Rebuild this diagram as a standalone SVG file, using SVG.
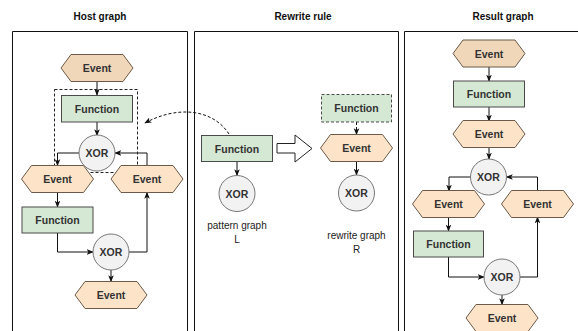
<svg xmlns="http://www.w3.org/2000/svg" width="578" height="331" viewBox="0 0 578 331">
  <style>
    .frame { fill: none; stroke: #111; stroke-width: 1; }
    .title { font-family: "Liberation Sans", Arial, sans-serif; font-size: 10px; font-weight: bold; fill: #111; text-anchor: middle; }
    .lbl { font-family: "Liberation Sans", Arial, sans-serif; font-size: 10.5px; font-weight: bold; fill: #333; text-anchor: middle; dominant-baseline: central; }
    .cap { font-family: "Liberation Sans", Arial, sans-serif; font-size: 10px; fill: #222; text-anchor: middle; }
    .ev { fill: #fde3c8; stroke: #6b5a48; stroke-width: 1; }
    .ev0 { fill: #f1d7ba; stroke: #6b5a48; stroke-width: 1; }
    .fn { fill: #d5e8d4; stroke: #4a4a4a; stroke-width: 1; }
    .fnd { fill: #d5e8d4; stroke: #4a4a4a; stroke-width: 1; stroke-dasharray: 3 2; }
    .xor { fill: #f2f2f2; stroke: #777; stroke-width: 1; }
    .edge { fill: none; stroke: #111; stroke-width: 1; marker-end: url(#ah); }
    .dash { fill: none; stroke: #111; stroke-width: 1; stroke-dasharray: 3 2; marker-end: url(#ah); }
  </style>
  <defs>
    <marker id="ah" viewBox="0 0 10 10" refX="9" refY="5" markerWidth="7" markerHeight="7" markerUnits="userSpaceOnUse" orient="auto">
      <path d="M0,1 L10,5 L0,9 L2.5,5 Z" fill="#111"/>
    </marker>
    <!-- event hexagon centred on 0,0 -->
    <polygon id="hex" points="-36,0 -26,-13.5 26,-13.5 36,0 26,13.5 -26,13.5"/>
  </defs>

  <rect width="578" height="331" fill="#fff"/>

  <!-- panels -->
  <g id="panels">
    <text class="title" x="100" y="20">Host graph</text>
    <text class="title" x="303" y="20">Rewrite rule</text>
    <text class="title" x="503" y="20">Result graph</text>
    <path class="frame" d="M12.5,340 V31.5 H187.5 V340"/>
    <path class="frame" d="M194.5,340 V31.5 H398.5 V340"/>
    <path class="frame" d="M404.5,340 V31.5 H590"/>
  </g>

  <!-- connectors -->
  <g id="connectors">
    <!-- host graph -->
    <path class="edge" d="M97,81.5 V95"/>
    <path class="edge" d="M97,122 V135.5"/>
    <path class="edge" d="M79.5,153 H57.5 V165.5"/>
    <path class="edge" d="M147,165.5 V153 H115"/>
    <path class="edge" d="M57.5,192.5 V207"/>
    <path class="edge" d="M57.5,233 V252 H93"/>
    <path class="edge" d="M129,252 H147 V192.5"/>
    <path class="edge" d="M111,269.5 V281.5"/>
    <!-- match indicator -->
    <path class="dash" d="M229,134 C212,108 176,106 145,123"/>
    <!-- rewrite rule -->
    <path class="edge" d="M237,162 V175.5"/>
    <path class="dash" d="M356.5,122 V134.5"/>
    <path class="edge" d="M356.5,161.5 V175"/>
    <polygon points="277,143.5 295,143.5 295,135 312,148.5 295,162 295,153 277,153" fill="#fff" stroke="#222" stroke-width="1"/>
    <!-- result graph -->
    <path class="edge" d="M489,67 V81"/>
    <path class="edge" d="M489,107 V121"/>
    <path class="edge" d="M489,147 V159"/>
    <path class="edge" d="M471,177 H449 V191"/>
    <path class="edge" d="M537.5,191 V177 H506.5"/>
    <path class="edge" d="M448.5,217 V231"/>
    <path class="edge" d="M448.5,257 V277 H484"/>
    <path class="edge" d="M520,277 H537.5 V217"/>
    <path class="edge" d="M502,295 V304.5"/>
  </g>

  <!-- host graph nodes -->
  <rect id="host-match" x="54.5" y="89.5" width="83" height="83" fill="none" stroke="#222" stroke-width="1" stroke-dasharray="3 2"/>
  <g id="h-ev1"><use href="#hex" class="ev0" transform="translate(97,68)"/><text class="lbl" x="97" y="68">Event</text></g>
  <g id="h-fn1"><rect class="fn" x="61.5" y="95.5" width="71" height="26.5"/><text class="lbl" x="97" y="108.5">Function</text></g>
  <g id="h-xor1"><circle class="xor" cx="97" cy="153" r="18"/><text class="lbl" x="97" y="153">XOR</text></g>
  <g id="h-ev2"><use href="#hex" class="ev" transform="translate(57.5,179)"/><text class="lbl" x="57.5" y="179">Event</text></g>
  <g id="h-ev3"><use href="#hex" class="ev" transform="translate(147,179)"/><text class="lbl" x="147" y="179">Event</text></g>
  <g id="h-fn2"><rect class="fn" x="22" y="207" width="71" height="26"/><text class="lbl" x="57.5" y="220">Function</text></g>
  <g id="h-xor2"><circle class="xor" cx="111" cy="252" r="18"/><text class="lbl" x="111" y="252">XOR</text></g>
  <g id="h-ev4"><use href="#hex" class="ev" transform="translate(111,295)"/><text class="lbl" x="111" y="295">Event</text></g>

  <!-- rewrite rule nodes -->
  <g id="l-fn"><rect class="fn" x="201.5" y="135.5" width="71" height="26"/><text class="lbl" x="237" y="148.5">Function</text></g>
  <g id="l-xor"><circle class="xor" cx="237" cy="193.5" r="18"/><text class="lbl" x="237" y="193.5">XOR</text></g>
  <g id="l-cap"><text class="cap" x="237" y="229">pattern graph</text><text class="cap" x="237" y="243">L</text></g>
  <g id="r-fn"><rect class="fnd" x="321.5" y="94.5" width="70" height="27.5"/><text class="lbl" x="356.5" y="108">Function</text></g>
  <g id="r-ev"><use href="#hex" class="ev" transform="translate(356.5,148)"/><text class="lbl" x="356.5" y="148">Event</text></g>
  <g id="r-xor"><circle class="xor" cx="356.5" cy="193" r="18"/><text class="lbl" x="356.5" y="193">XOR</text></g>
  <g id="r-cap"><text class="cap" x="356.5" y="239">rewrite graph</text><text class="cap" x="356.5" y="253">R</text></g>

  <!-- result graph nodes -->
  <g id="s-ev1"><use href="#hex" class="ev0" transform="translate(489,53.5)"/><text class="lbl" x="489" y="53.5">Event</text></g>
  <g id="s-fn1"><rect class="fn" x="453.5" y="81" width="71" height="26"/><text class="lbl" x="489" y="94">Function</text></g>
  <g id="s-ev2"><use href="#hex" class="ev" transform="translate(489,134)"/><text class="lbl" x="489" y="134">Event</text></g>
  <g id="s-xor1"><circle class="xor" cx="488.5" cy="177" r="18"/><text class="lbl" x="488.5" y="177">XOR</text></g>
  <g id="s-ev3"><use href="#hex" class="ev" transform="translate(448.5,204)"/><text class="lbl" x="448.5" y="204">Event</text></g>
  <g id="s-ev4"><use href="#hex" class="ev" transform="translate(537.5,204)"/><text class="lbl" x="537.5" y="204">Event</text></g>
  <g id="s-fn2"><rect class="fn" x="413.5" y="231" width="70" height="26"/><text class="lbl" x="448.5" y="244">Function</text></g>
  <g id="s-xor2"><circle class="xor" cx="502" cy="277" r="18"/><text class="lbl" x="502" y="277">XOR</text></g>
  <g id="s-ev5"><use href="#hex" class="ev" transform="translate(502,318)"/><text class="lbl" x="502" y="318">Event</text></g>
</svg>
